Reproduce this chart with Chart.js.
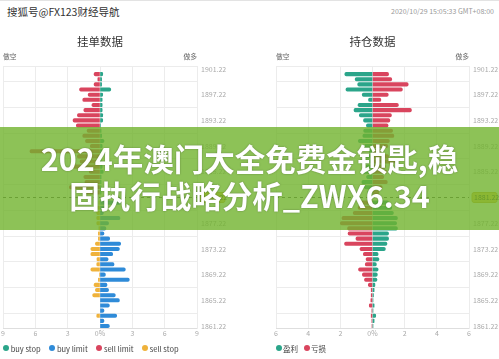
<!DOCTYPE html>
<html>
<head>
<meta charset="utf-8">
<script src="https://cdn.jsdelivr.net/npm/chart.js@4.4.1/dist/chart.umd.min.js"></script>
<style>
  body { margin: 0; width: 499px; height: 359px; overflow: hidden; background: #fff; position: relative;
         font-family: "Noto Sans CJK SC", sans-serif; }
  #topline { position: absolute; left: 0; top: 0; width: 499px; height: 1px; background: #e3e3e3; }
  #brand { position: absolute; left: 7px; top: 4px; font-size: 10.5px; color: #333; }
  #stamp { position: absolute; right: 5px; top: 6px; font-size: 7px; color: #999; }
  canvas { position: absolute; top: 0; }
  #orders { left: 0; }
  #holds { left: 249px; }
  .legend { position: absolute; top: 343px; height: 10px; display: flex; align-items: center;
            font-size: 7.5px; color: #444; }
  .legend .item { display: flex; align-items: center; }
  .legend .dot { display: inline-block; width: 6px; height: 6px; border-radius: 50%; }
  #legendOrders { left: 3px; }
  #legendOrders .dot { margin-right: 1.7px; }
  #legendOrders .item { margin-right: 8.5px; }
  #legendHolds { left: 276px; }
  #legendHolds .dot { margin-right: 1px; }
  #legendHolds .item { margin-right: 6px; }
  #banner { position: absolute; left: 0; top: 127px; width: 499px; height: 103px;
            background: rgba(112, 179, 45, 0.8); display: flex; align-items: center; justify-content: center;
            text-align: center; color: #fff; font-weight: 700; font-size: 30.5px; line-height: 37px;
            padding-bottom: 3px; box-sizing: border-box;
            text-shadow: 0 0 2px rgba(0, 0, 0, 0.35); }
</style>
</head>
<body>
<div id="topline"></div>
<div id="brand">搜狐号@FX123财经导航</div>
<div id="stamp">2020/10/29 15:05:33 GMT+08:00</div>
<canvas id="orders" width="249" height="359"></canvas>
<canvas id="holds" width="250" height="359"></canvas>
<div class="legend" id="legendOrders"></div>
<div class="legend" id="legendHolds"></div>
<div id="banner">2024年澳门大全免费金锁匙,稳<br>固执行战略分析_ZWX6.34</div>

<script>
// price levels, top to bottom
const priceLabels = [
  "1901.22", "1900.42", "1899.62", "1898.82", "1898.02", "1897.22", "1896.42", "1895.62", "1894.82", "1894.02",
  "1893.22", "1892.42", "1891.62", "1890.82", "1890.02", "1889.22", "1888.42", "1887.62", "1886.82", "1886.02",
  "1885.22", "1884.42", "1883.62", "1882.82", "1882.02", "1881.22", "1880.42", "1879.62", "1878.82", "1878.02",
  "1877.22", "1876.42", "1875.62", "1874.82", "1874.02", "1873.22", "1872.42", "1871.62", "1870.82", "1870.02",
  "1869.22", "1868.42", "1867.62", "1866.82", "1866.02", "1865.22", "1864.42", "1863.62", "1862.82", "1862.02",
  "1861.22"
];
const currentIndex = 25; // 1881.22
const sideLabels = ["做空", "做多"];

// 挂单数据 (%), sell sides drawn to the left
const buyStop = [
  null, 0.25, 0.15, 0.15, 1.0, 0.25, 0.2, 0.2, 0.2, 0.25,
  0.25, 0.05, 0.1, 0.15, 0.37, 0.2, 0.2, 0.1, 0.1, 0.2,
  0.3, 0.1, 0.1, 0.1, 0.1, null, null, null, null, null,
  null, null, null, null, null, null, null, null, null, null,
  null, null, null, null, null, null, null, null, null, null,
  null
];
const sellLimit = [
  null, 0.55, 0.2, 0.55, 1.9, 1.1, 1.6, 0.75, 1.5, 2.1,
  2.5, 2.2, 1.2, 1.6, 1.35, 0.9, 6.5, 2.1, 1.85, 2.5,
  1.0, 1.5, 1.4, 2.85, 1.5, null, null, null, null, null,
  null, null, null, null, null, null, null, null, null, null,
  null, null, null, null, null, null, null, null, null, null,
  null
];
const buyLimit = [
  null, null, null, null, null, null, null, null, null, null,
  null, null, null, null, null, null, null, null, null, null,
  null, null, null, null, null, null, 1.9, 0.6, 0.3, 1.85,
  0.8, 0.55, 0.37, 0.9, 1.92, 1.8, 1.18, 0.75, 1.3, 2.35,
  0.5, 2.72, 0.65, 0.8, 1.42, 1.8, 0.87, 0.37, 1.55, 0.37,
  0.87
];
const sellStop = [
  null, null, null, null, null, null, null, null, null, null,
  null, null, null, null, null, null, null, null, null, null,
  null, null, null, null, null, null, 0.1, 0.3, 0.3, 0.3,
  0.3, 0.1, 0.15, 0.15, 0.43, 0.85, 0.85, 0.28, 0.3, 0.85,
  0.05, 0.15, 0.55, 0.43, 0.68, null, null, null, 0.3, null,
  null
];

// 持仓数据 (%), negative = short side
const profit = [
  null, -1.72, -1.08, -0.92, -1.65, -0.64, -0.25, -0.9, -1.15, -0.82,
  -0.56, -0.38, -0.55, -0.6, -0.88, -0.5, -0.2, -0.5, -0.8, -0.4,
  -0.6, -0.37, -0.66, -0.5, -0.3, null, 1.0, 1.2, 1.3, 1.55,
  1.5, 1.55, 1.0, 1.0, 0.9, 0.8, 0.35, 0.4, 0.24, 0.35,
  0.3, 0.28, 0.15, 0.1, 0.06, 0.03, 0.1, 0.03, 0.2, 0.1,
  0.03
];
const loss = [
  null, 1.0, 1.2, 2.22, 1.86, 0.98, 0.52, 1.61, 2.42, 1.18,
  1.08, 0.97, 1.25, 1.33, 1.05, 0.95, 0.5, 1.0, 1.4, 0.8,
  0.9, 0.7, 0.92, 0.6, 0.4, null, -0.75, -0.9, -1.2, -1.9,
  -2.0, -1.55, -1.52, -1.03, -1.74, -0.78, -0.57, -0.4, -0.45, -0.87,
  -0.63, -0.5, -0.26, -0.08, -0.08, -0.1, -0.2, -0.04, -0.08, -0.04,
  -0.03
];

const GREEN = "#2ba58a";
const BLUE = "#2f8bd8";
const RED = "#d9455e";
const YELLOW = "#efb23b";
const GRID = "#ececec";

Chart.defaults.font.family = '"Noto Sans CJK SC", sans-serif';

const neg = (arr) => arr.map((v) => (v === null ? null : -v));

const bar = (label, data, color) => ({
  label: label,
  data: data,
  backgroundColor: color,
  barThickness: 3.4,
  borderRadius: 2,
});

const sideLabelPlugin = {
  id: "sideLabels",
  afterDraw(chart) {
    const { ctx, chartArea } = chart;
    ctx.save();
    ctx.font = '6.8px "Noto Sans CJK SC"';
    ctx.fillStyle = "#666";
    ctx.textBaseline = "middle";
    ctx.textAlign = "left";
    ctx.fillText(sideLabels[0], chartArea.left, chartArea.top - 9.5);
    ctx.textAlign = "right";
    ctx.fillText(sideLabels[1], chartArea.right, chartArea.top - 9.5);
    ctx.restore();
  },
};

const priceMarkPlugin = {
  id: "priceMark",
  afterDraw(chart) {
    const { ctx, chartArea } = chart;
    const py = chart.scales.y.getPixelForValue(currentIndex);
    ctx.save();
    ctx.setLineDash([3, 3]);
    ctx.strokeStyle = "#555";
    ctx.lineWidth = 1;
    ctx.beginPath();
    ctx.moveTo(chartArea.left, py);
    ctx.lineTo(chartArea.right, py);
    ctx.stroke();
    ctx.setLineDash([]);
    const x0 = chartArea.right + 3;
    ctx.fillStyle = "#f6c94a";
    ctx.strokeStyle = "#d6a931";
    ctx.beginPath();
    ctx.roundRect(x0, py - 5, 25, 10, 2);
    ctx.fill();
    ctx.stroke();
    ctx.fillStyle = "#333";
    ctx.font = '7px "Noto Sans CJK SC"';
    ctx.textBaseline = "middle";
    ctx.textAlign = "left";
    ctx.fillText(priceLabels[currentIndex], x0 + 2, py);
    ctx.restore();
  },
};

function panelOptions(title, xMax, xStep, padLeft, axisWidth) {
  return {
    indexAxis: "y",
    responsive: false,
    animation: false,
    events: [],
    layout: { padding: { left: padLeft, right: 0, top: 0, bottom: 20.4 } },
    plugins: {
      legend: { display: false },
      tooltip: { enabled: false },
      title: {
        display: true,
        text: title,
        fullSize: false,
        color: "#333",
        font: { size: 11.5, weight: "normal" },
        padding: { top: 35, bottom: 17.6 },
      },
    },
    scales: {
      x: {
        stacked: true,
        min: -xMax,
        max: xMax,
        afterFit: (scale) => { scale.height = 10; },
        grid: { color: GRID, drawTicks: false },
        border: { color: "#dedede" },
        ticks: {
          stepSize: xStep,
          padding: 0.5,
          color: "#aaa",
          font: { size: 7 },
          callback: (v) => (v === 0 ? "0%" : Math.abs(v)),
        },
      },
      y: {
        stacked: true,
        position: "right",
        afterFit: (scale) => { scale.width = axisWidth; },
        grid: {
          offset: true,
          drawTicks: false,
          color: (c) => (c.index === 0 || c.index % 5 === 3 ? GRID : "rgba(0,0,0,0)"),
        },
        border: { color: GRID },
        ticks: {
          autoSkip: false,
          padding: 4,
          color: "#aaa",
          font: { size: 7 },
          callback: (v, i) => (i % 5 === 0 ? priceLabels[i] : ""),
        },
      },
    },
  };
}

function htmlLegend(el, chart) {
  chart.data.datasets.forEach((ds) => {
    const item = document.createElement("span");
    item.className = "item";
    item.innerHTML = `<i class="dot" style="background:${ds.backgroundColor}"></i>${ds.label}`;
    el.appendChild(item);
  });
}

const ordersChart = new Chart(document.getElementById("orders"), {
  type: "bar",
  data: {
    labels: priceLabels,
    datasets: [
      bar("buy stop", buyStop, GREEN),
      bar("buy limit", buyLimit, BLUE),
      bar("sell limit", neg(sellLimit), RED),
      bar("sell stop", neg(sellStop), YELLOW),
    ],
  },
  options: panelOptions("挂单数据", 9, 3, 3, 52),
  plugins: [sideLabelPlugin, priceMarkPlugin],
});

const holdsChart = new Chart(document.getElementById("holds"), {
  type: "bar",
  data: {
    labels: priceLabels,
    datasets: [
      bar("盈利", profit, GREEN),
      bar("亏损", loss, RED),
    ],
  },
  options: panelOptions("持仓数据", 6, 2, 27, 30),
  plugins: [sideLabelPlugin, priceMarkPlugin],
});

htmlLegend(document.getElementById("legendOrders"), ordersChart);
htmlLegend(document.getElementById("legendHolds"), holdsChart);
</script>
</body>
</html>
